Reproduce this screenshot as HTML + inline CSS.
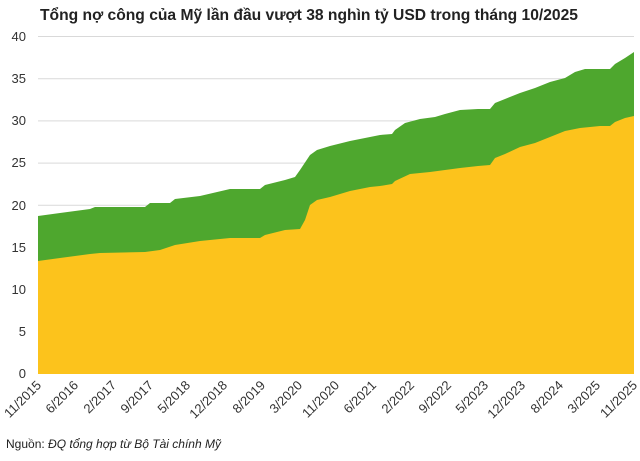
<!DOCTYPE html>
<html><head><meta charset="utf-8"><style>
body{margin:0;background:#fff;width:640px;height:456px;overflow:hidden;font-family:"Liberation Sans",sans-serif}
</style></head><body>
<svg width="640" height="456" xmlns="http://www.w3.org/2000/svg" font-family="Liberation Sans, sans-serif">
<text x="40" y="20" font-size="15.7" font-weight="bold" fill="#222" textLength="538" lengthAdjust="spacingAndGlyphs">Tổng nợ công của Mỹ lần đầu vượt 38 nghìn tỷ USD trong tháng 10/2025</text>
<g stroke="#d9d9d9" stroke-width="1">
<line x1="38" x2="634" y1="36.5" y2="36.5"/><line x1="38" x2="634" y1="78.7" y2="78.7"/>
<line x1="38" x2="634" y1="120.9" y2="120.9"/><line x1="38" x2="634" y1="163.1" y2="163.1"/>
<line x1="38" x2="634" y1="205.3" y2="205.3"/><line x1="38" x2="634" y1="247.5" y2="247.5"/>
<line x1="38" x2="634" y1="289.7" y2="289.7"/><line x1="38" x2="634" y1="331.9" y2="331.9"/>
</g>
<g font-size="13" fill="#333" text-anchor="end">
<text x="26" y="41">40</text><text x="26" y="83">35</text><text x="26" y="125">30</text><text x="26" y="167">25</text>
<text x="26" y="210">20</text><text x="26" y="252">15</text><text x="26" y="294">10</text><text x="26" y="336">5</text><text x="26" y="378">0</text>
</g>
<polygon fill="#4ea72e" points="38,374 38,216 60,213 90,209 95,207 145,207 150,203 170,203 175,199 200,196 230,189 260,189 265,185 285,180 295,177 300,170 310,155 317,150 330,146 350,141 370,137 380,135 392,134 395,130 405,123 420,119 435,117 445,114 460,110 478,109 490,109 495,103 505,99 520,93 535,88 550,82 565,78 575,72 585,69 610,69 615,64 625,58 634,52 634,374"/>
<polygon fill="#fcc31c" points="38,374 38,261 60,258 90,254 100,253 145,252 160,250 175,245 200,241 230,238 260,238 265,235 285,230 300,229 305,220 310,205 317,200 330,197 350,191 370,187 380,186 392,184 395,181 410,174 430,172 445,170 460,168 478,166 490,165 495,158 505,154 520,147 535,143 545,139 565,131 580,128 590,127 600,126 610,126 615,122 625,118 634,116 634,374"/>
<g font-size="13" fill="#333" text-anchor="end">
<text transform="translate(42,386) rotate(-45)">11/2015</text>
<text transform="translate(79,386) rotate(-45)">6/2016</text>
<text transform="translate(117,386) rotate(-45)">2/2017</text>
<text transform="translate(154,386) rotate(-45)">9/2017</text>
<text transform="translate(191,386) rotate(-45)">5/2018</text>
<text transform="translate(228,386) rotate(-45)">12/2018</text>
<text transform="translate(266,386) rotate(-45)">8/2019</text>
<text transform="translate(303,386) rotate(-45)">3/2020</text>
<text transform="translate(340,386) rotate(-45)">11/2020</text>
<text transform="translate(377,386) rotate(-45)">6/2021</text>
<text transform="translate(415,386) rotate(-45)">2/2022</text>
<text transform="translate(452,386) rotate(-45)">9/2022</text>
<text transform="translate(489,386) rotate(-45)">5/2023</text>
<text transform="translate(526,386) rotate(-45)">12/2023</text>
<text transform="translate(564,386) rotate(-45)">8/2024</text>
<text transform="translate(601,386) rotate(-45)">3/2025</text>
<text transform="translate(638,386) rotate(-45)">11/2025</text>
</g>
<text x="6" y="448" font-size="12" fill="#222">Nguồn: <tspan font-style="italic">ĐQ tổng hợp từ Bộ Tài chính Mỹ</tspan></text>
</svg>
</body></html>
